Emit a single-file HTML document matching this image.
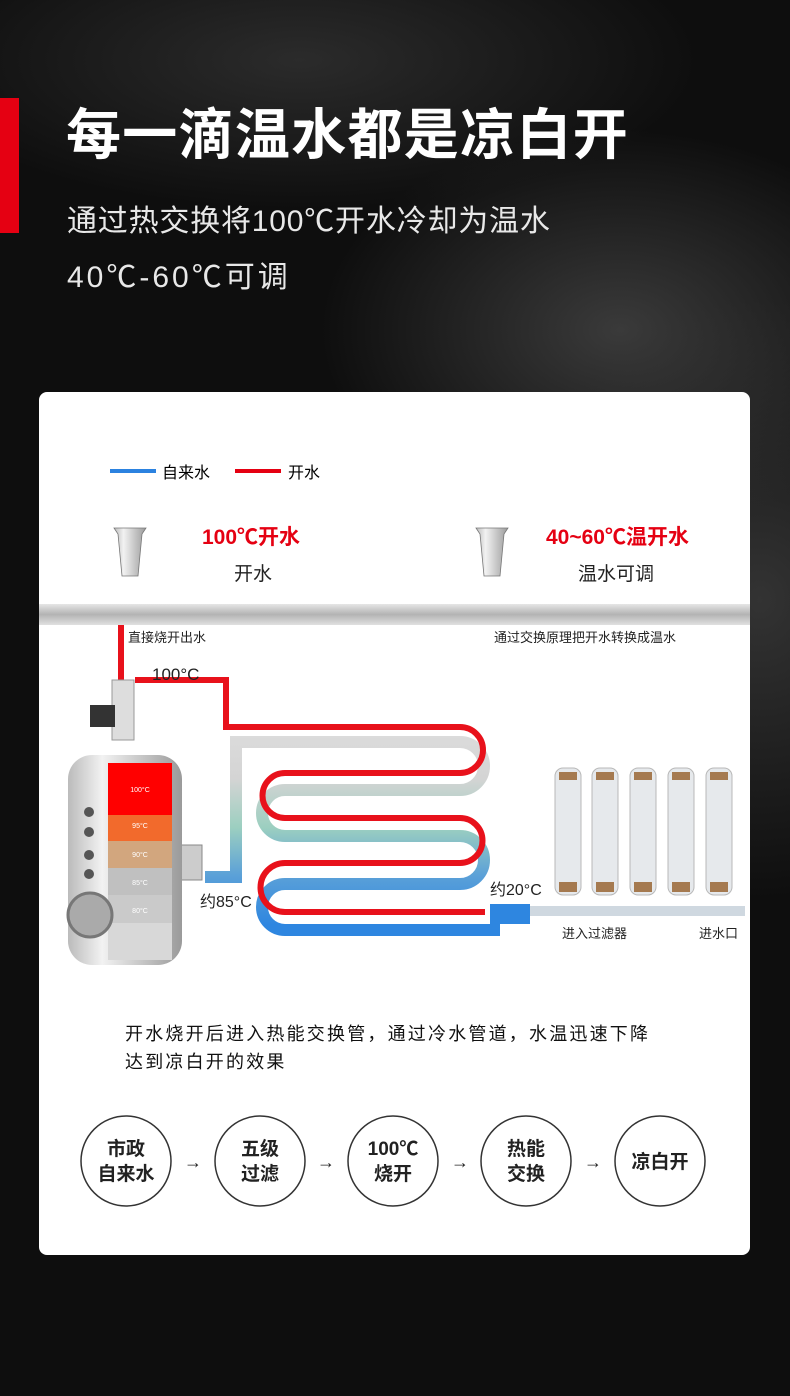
<!DOCTYPE html>
<html><head><meta charset="utf-8"><style>
*{margin:0;padding:0}
body{width:790px;height:1396px;overflow:hidden;font-family:"Liberation Sans","Noto Sans CJK SC",sans-serif;background:#0d0d0d}
.bg{position:absolute;left:0;top:0;width:790px;height:1396px;background:radial-gradient(ellipse 300px 200px at 620px 330px,#3a3a3a,rgba(0,0,0,0)),radial-gradient(ellipse 400px 150px at 300px 60px,#2b2b2b,rgba(0,0,0,0)),radial-gradient(ellipse 250px 300px at 760px 600px,#333,rgba(0,0,0,0)),#0e0e0e}
</style></head><body>
<div class="bg"></div>
<div style="position:absolute;left:0;top:98px;width:19px;height:135px;background:#e50012"></div>
<div style="position:absolute;left:66px;top:90px;color:#fff;font-size:55px;font-weight:bold;letter-spacing:1.3px">每一滴温水都是凉白开</div>
<div style="position:absolute;left:67px;top:196px;color:#e8e8e8;font-size:30px;letter-spacing:0.8px">通过热交换将100℃开水冷却为温水</div>
<div style="position:absolute;left:67px;top:252px;color:#e8e8e8;font-size:30px;letter-spacing:3px">40℃-60℃可调</div>
<div style="position:absolute;left:39px;top:392px;width:711px;height:863px;background:#fff;border-radius:8px"></div>
<svg style="position:absolute;left:0;top:0" width="790" height="1396" font-family="Liberation Sans,Noto Sans CJK SC,sans-serif">
<defs>
<linearGradient id="pg" x1="0" y1="0" x2="0" y2="1"><stop offset="0" stop-color="#e6e6e6"/><stop offset=".5" stop-color="#b3b3b3"/><stop offset="1" stop-color="#e0e0e0"/></linearGradient>
<linearGradient id="ug" gradientUnits="userSpaceOnUse" x1="0" y1="730" x2="0" y2="925"><stop offset="0" stop-color="#dcdcdc"/><stop offset=".25" stop-color="#d4d4d4"/><stop offset=".5" stop-color="#9ccfc0"/><stop offset=".75" stop-color="#5aa0d8"/><stop offset="1" stop-color="#2e86e0"/></linearGradient>
<linearGradient id="tk" x1="0" y1="0" x2="1" y2="0"><stop offset="0" stop-color="#bbb"/><stop offset=".3" stop-color="#f2f2f2"/><stop offset="1" stop-color="#9a9a9a"/></linearGradient>
<linearGradient id="vg" x1="0" y1="0" x2="0" y2="1"><stop offset="0" stop-color="#3a7be0"/><stop offset="1" stop-color="#a0307a"/></linearGradient>
</defs>
<line x1="110" y1="471" x2="156" y2="471" stroke="#2b82e0" stroke-width="4"/>
<text x="162" y="478" font-size="16">自来水</text>
<line x1="235" y1="471" x2="281" y2="471" stroke="#e50012" stroke-width="4"/>
<text x="288" y="478" font-size="16">开水</text>
<g fill="url(#tk)" stroke="#777" stroke-width=".8"><path d="M114 528h32l-4 6-4 42h-16l-4-42z"/><path d="M476 528h32l-4 6-4 42h-16l-4-42z"/></g>
<text x="202" y="544" font-size="21" font-weight="bold" fill="#e50012">100℃开水</text>
<text x="234" y="580" font-size="19" fill="#222">开水</text>
<text x="546" y="544" font-size="21" font-weight="bold" fill="#e50012">40~60℃温开水</text>
<text x="578" y="580" font-size="19" fill="#222">温水可调</text>
<rect x="39" y="604" width="711" height="21" fill="url(#pg)"/>
<path d="M205 877H236V742H460a24 24 0 0 1 0 48H285a23 23 0 0 0 0 46H460a24 24 0 0 1 0 48H285a23 23 0 0 0 0 46H500" fill="none" stroke="url(#ug)" stroke-width="12"/>
<rect x="490" y="904" width="40" height="20" fill="#2e86e0"/>
<rect x="530" y="906" width="215" height="10" fill="#cfd8e0"/>
<path d="M121 625V700M135 680H226V727H460a23 23 0 0 1 0 46H285a22.5 22.5 0 0 0 0 45H460a22.5 22.5 0 0 1 0 45H285a24.5 24.5 0 0 0 0 49H485" fill="none" stroke="#e8111b" stroke-width="6"/>
<line x1="485" y1="625" x2="485" y2="912" stroke="url(#vg)" stroke-width="5"/>
<text x="128" y="642" font-size="13" fill="#222">直接烧开出水</text>
<text x="494" y="642" font-size="13" fill="#222">通过交换原理把开水转换成温水</text>
<text x="152" y="680" font-size="17" fill="#222">100°C</text>
<text x="200" y="907" font-size="16" fill="#222">约85°C</text>
<text x="490" y="895" font-size="16" fill="#222">约20°C</text>
<rect x="112" y="680" width="22" height="60" fill="#ddd" stroke="#999"/>
<rect x="90" y="705" width="25" height="22" fill="#333"/>
<rect x="180" y="845" width="22" height="35" fill="#ccc" stroke="#888"/>
<rect x="68" y="755" width="114" height="210" rx="24" fill="url(#tk)"/>
<rect x="108" y="763" width="64" height="52" fill="#f00"/>
<rect x="108" y="815" width="64" height="26" fill="#f26a2c"/>
<rect x="108" y="841" width="64" height="27" fill="#d2a67e"/>
<rect x="108" y="868" width="64" height="27" fill="#c0c0c0"/>
<rect x="108" y="895" width="64" height="28" fill="#cacaca"/>
<rect x="108" y="923" width="64" height="37" fill="#d8d8d8"/>
<g font-size="7" fill="#fff" text-anchor="middle"><text x="140" y="792">100°C</text><text x="140" y="828">95°C</text><text x="140" y="857">90°C</text><text x="140" y="885">85°C</text><text x="140" y="913">80°C</text></g>
<circle cx="90" cy="915" r="22" fill="#aaa" stroke="#777" stroke-width="3"/>
<g fill="#555"><circle cx="89" cy="812" r="5"/><circle cx="89" cy="832" r="5"/><circle cx="89" cy="855" r="5"/><circle cx="89" cy="874" r="5"/></g>
<g fill="#e6e9ec" stroke="#b8b8b8"><rect x="555" y="768" width="26" height="127" rx="8"/><rect x="592" y="768" width="26" height="127" rx="8"/><rect x="630" y="768" width="26" height="127" rx="8"/><rect x="668" y="768" width="26" height="127" rx="8"/><rect x="706" y="768" width="26" height="127" rx="8"/></g>
<g fill="#a57a50"><rect x="559" y="772" width="18" height="8"/><rect x="596" y="772" width="18" height="8"/><rect x="634" y="772" width="18" height="8"/><rect x="672" y="772" width="18" height="8"/><rect x="710" y="772" width="18" height="8"/><rect x="559" y="882" width="18" height="10"/><rect x="596" y="882" width="18" height="10"/><rect x="634" y="882" width="18" height="10"/><rect x="672" y="882" width="18" height="10"/><rect x="710" y="882" width="18" height="10"/></g>
<text x="562" y="938" font-size="13" fill="#222">进入过滤器</text>
<text x="699" y="938" font-size="13" fill="#222">进水口</text>
<text x="125" y="1040" font-size="18" fill="#111" letter-spacing="2.2">开水烧开后进入热能交换管，通过冷水管道，水温迅速下降</text>
<text x="125" y="1068" font-size="18" fill="#111" letter-spacing="2.2">达到凉白开的效果</text>
<g fill="#fff" stroke="#333" stroke-width="1.5"><circle cx="126" cy="1161" r="45"/><circle cx="260" cy="1161" r="45"/><circle cx="393" cy="1161" r="45"/><circle cx="526" cy="1161" r="45"/><circle cx="660" cy="1161" r="45"/></g>
<g font-size="19" font-weight="bold" fill="#222" text-anchor="middle"><text x="126" y="1155">市政</text><text x="126" y="1180">自来水</text><text x="260" y="1155">五级</text><text x="260" y="1180">过滤</text><text x="393" y="1155">100℃</text><text x="393" y="1180">烧开</text><text x="526" y="1155">热能</text><text x="526" y="1180">交换</text><text x="660" y="1168">凉白开</text></g>
<g font-size="18" fill="#222" text-anchor="middle"><text x="193" y="1168">→</text><text x="326" y="1168">→</text><text x="460" y="1168">→</text><text x="593" y="1168">→</text></g>
</svg>
</body></html>
